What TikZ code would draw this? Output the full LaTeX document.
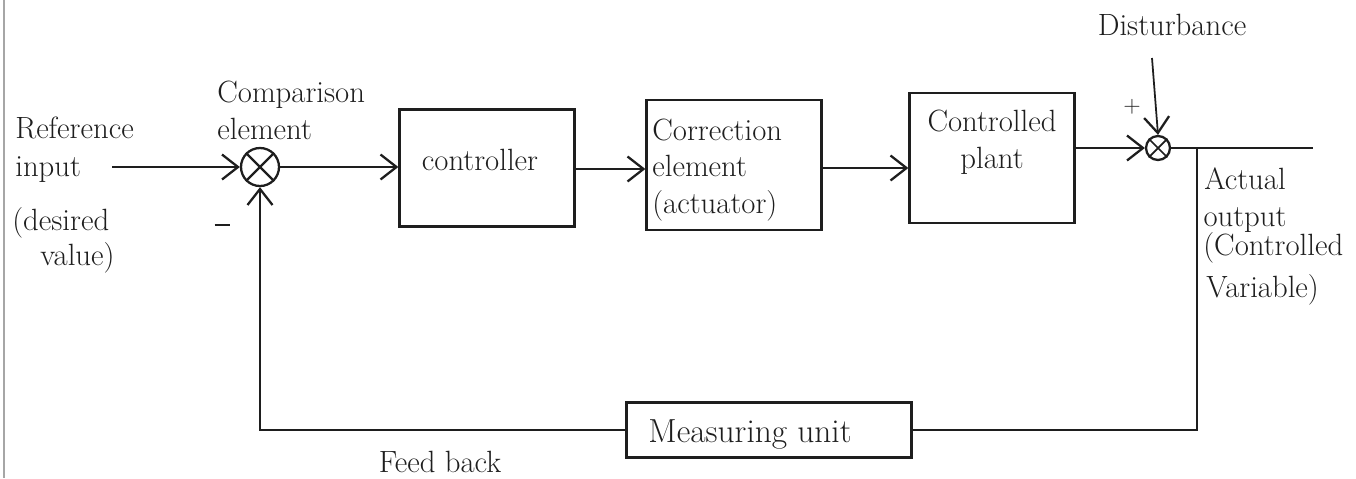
\documentclass[tikz,border=0pt]{standalone}
\usetikzlibrary{arrows.meta}
\definecolor{ink}{HTML}{1E1E1E}
\tikzset{
  wire/.style={draw=ink, line width=1.3pt},
  flow/.style={wire, -{Straight Barb[length=3.2mm, width=5mm, line width=1.3pt]}},
  block/.style={draw=ink, line width=1.3pt, inner sep=0pt, font=\fontsize{17}{21}\selectfont},
  junction/.style={circle, draw=ink, line width=1.3pt, inner sep=0pt},
  lbl/.style={inner sep=0pt, text=ink, font=\fontsize{17.5}{21}\selectfont},
}
\begin{document}
\begin{tikzpicture}[x=0.02cm, y=-0.02cm]
  \useasboundingbox (0,0) rectangle (1356,478);
  % page edge on the left
  \draw[gray!70, line width=0.8pt] (4,0) -- (4,478);

  % summing junctions
  \node[junction, minimum size=38*0.02cm] (s1) at (260,167) {};
  \draw[wire] (s1.north west) -- (s1.south east) (s1.north east) -- (s1.south west);
  \node[junction, minimum size=24*0.02cm] (s2) at (1158,148) {};
  \draw[wire, line width=1pt] (s2.north west) -- (s2.south east) (s2.north east) -- (s2.south west);

  % blocks
  \node[block, minimum width=175*0.02cm, minimum height=117*0.02cm] (ctrl) at (487,168) {};
  \node[lbl] at (480,160) {controller};
  \node[block, minimum width=175*0.02cm, minimum height=130*0.02cm] (corr) at (734,165) {};
  \node[lbl, align=left, anchor=west] at (652,170) {Correction\\element\\(actuator)};
  \node[block, minimum width=165*0.02cm, minimum height=130*0.02cm] (plant) at (992,158) {};
  \node[lbl, align=center] at (992,142) {Controlled\\plant};
  \node[block, minimum width=285*0.02cm, minimum height=55*0.02cm] (meas) at (769,430) {};
  \node[lbl, font=\fontsize{19}{22}\selectfont] at (750,434) {Measuring unit};

  % free ends
  \coordinate (in)  at (112,167);
  \coordinate (out) at (1313,148);
  \coordinate (tap) at (1197,148);
  \coordinate (fb)  at (260,430);
  \coordinate (dist) at (1152,58);

  % forward path
  \draw[flow] (in) -- (s1.west);
  \draw[flow] (s1.east) -- (s1.east -| ctrl.west);
  \draw[flow] (ctrl.east |- 0,169) -- (corr.west |- 0,169);
  \draw[flow] (corr.east |- 0,168) -- (plant.west |- 0,168);
  \draw[flow] (plant.east |- s2.west) -- (s2.west);
  \draw[wire] (s2.east) -- (out);
  \draw[flow, line width=1pt] (dist) -- (s2.north);

  % feedback path
  \draw[wire] (tap) -- (tap |- meas.east) -- (meas.east);
  \draw[flow] (meas.west) -- (fb) -- (s1.south);

  % labels
  \node[lbl, anchor=west] (refa) at (15,128) {Reference};
  \node[lbl, anchor=west] (refb) at (15,170) {input};
  \node[lbl, anchor=west] (refc) at (12,223) {(desired};
  \node[lbl, anchor=west] (refd) at (40,258) {value)};
  \node[lbl] (minus) at (222,225) {\rule{0.3cm}{1.6pt}};
  \node[lbl, align=left, anchor=west] (cmp) at (217,110) {Comparison\\element};
  \node[lbl, font=\fontsize{13}{15}\selectfont] (plus) at (1132,107) {+};
  \node[lbl] (dlab) at (1172,25) {Disturbance};
  \node[lbl, align=center] (act) at (1245,200) {Actual\\output};
  \node[lbl, anchor=west] (cv1) at (1203,248) {(Controlled};
  \node[lbl, anchor=west] (cv2) at (1206,290) {Variable)};
  \node[lbl] (fblab) at (440,462) {Feed back};
\end{tikzpicture}
\end{document}
